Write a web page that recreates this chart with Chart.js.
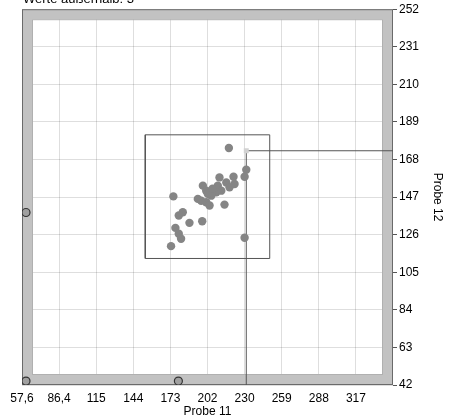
<!DOCTYPE html>
<html>
<head>
<meta charset="utf-8">
<script src="https://cdn.jsdelivr.net/npm/chart.js@4/dist/chart.umd.min.js"></script>
<style>
  html, body { margin: 0; padding: 0; background: #fff; }
</style>
</head>
<body>
<canvas id="probeChart" width="452" height="419"></canvas>
<script>
// Messwerte innerhalb des Bereichs
const probe11 = [218.2, 231.7, 230.4, 221.8, 210.9, 216.2, 222.6, 218.7, 209.6, 198.0, 200.6,
                 208.4, 212.3, 204.5, 194.1, 200.6, 203.2, 214.8, 175.1, 182.4, 179.3, 187.6,
                 197.5, 176.7, 179.3, 181.1, 173.3, 230.4, 196.7, 201.8, 205.5];
const probe12 = [174.4, 162.3, 158.4, 158.4, 158.0, 155.2, 154.3, 152.5, 153.4, 153.4, 150.6,
                 149.7, 150.6, 147.8, 146.0, 144.1, 142.3, 142.8, 147.4, 138.5, 136.7, 132.6,
                 133.5, 129.8, 126.5, 123.7, 119.6, 124.3, 145.0, 148.9, 151.7];

// Werte ausserhalb (am Rand dargestellt)
const outX = [60.7, 60.7, 179.0];
const outY = [138.4, 44.2, 44.2];

// markierter Punkt + Auswahlrechteck
const selX = [231.7];
const selY = [172.9];
const boxX = [153.3, 249.9];
const boxY = [112.7, 181.8];

const xTicks = [57.6, 86.4, 115.2, 144, 172.8, 201.6, 230.4, 259.2, 288, 316.8];
const xTickLabels = ['57,6', '86,4', '115', '144', '173', '202', '230', '259', '288', '317'];
const yTicks = [42, 63, 84, 105, 126, 147, 168, 189, 210, 231, 252];
const xMin = 57.6, xMax = 345.6, yMin = 42, yMax = 252;

const toPts = (xs, ys) => xs.map((x, i) => ({ x: x, y: ys[i] }));

const boxPts = [
  { x: boxX[0], y: boxY[0] }, { x: boxX[1], y: boxY[0] },
  { x: boxX[1], y: boxY[1] }, { x: boxX[0], y: boxY[1] },
  { x: boxX[0], y: boxY[0] }
];
const cursorPts = [
  { x: selX[0], y: yMin }, { x: selX[0], y: selY[0] }, { x: xMax, y: selY[0] }
];

// grauer Rahmen = Bereich fuer Werte ausserhalb
const frameBand = {
  id: 'frameBand',
  beforeDatasetsDraw(chart) {
    const { ctx, chartArea: a } = chart;
    const t = 10;
    const w = a.right - a.left, h = a.bottom - a.top;
    ctx.save();
    ctx.fillStyle = '#c2c2c2';
    ctx.beginPath();
    ctx.rect(a.left, a.top, w, h);
    ctx.rect(a.left + t, a.top + t, w - 2 * t, h - 2 * t);
    ctx.fill('evenodd');
    ctx.lineWidth = 1;
    ctx.strokeStyle = '#6a6a6a';
    ctx.strokeRect(a.left + 0.5, a.top + 0.5, w - 1, h - 1);
    ctx.strokeStyle = '#b0b0b0';
    ctx.strokeRect(a.left + t + 0.5, a.top + t + 0.5, w - 2 * t - 1, h - 2 * t - 1);
    ctx.restore();
  },
  afterDraw(chart) {
    const ctx = chart.ctx;
    ctx.save();
    ctx.fillStyle = '#000';
    ctx.font = '13px "Liberation Sans", Arial, sans-serif';
    ctx.textBaseline = 'alphabetic';
    ctx.fillText('Werte außerhalb: 3', 23, 3);
    ctx.restore();
  }
};

new Chart(document.getElementById('probeChart'), {
  type: 'scatter',
  data: {
    datasets: [
      {
        data: toPts(selX, selY),
        pointStyle: 'rect',
        pointRadius: 3.5,
        backgroundColor: '#d2d2d2',
        borderWidth: 0
      },
      {
        data: toPts(probe11, probe12),
        pointRadius: 4.2,
        backgroundColor: '#858585',
        borderWidth: 0
      },
      {
        data: toPts(outX, outY),
        pointRadius: 4,
        backgroundColor: '#a0a0a0',
        borderColor: '#333',
        borderWidth: 1.2
      },
      {
        data: cursorPts,
        showLine: true,
        pointRadius: 0,
        borderColor: '#555',
        borderWidth: 1
      },
      {
        data: boxPts,
        showLine: true,
        pointRadius: 0,
        borderColor: '#555',
        borderWidth: 1
      }
    ]
  },
  options: {
    responsive: false,
    animation: false,
    devicePixelRatio: 1,
    layout: { padding: { left: 22, top: 8, right: 0, bottom: 0 } },
    plugins: {
      legend: { display: false },
      tooltip: { enabled: false }
    },
    scales: {
      x: {
        type: 'linear',
        min: xMin,
        max: xMax,
        afterBuildTicks: s => { s.ticks = xTicks.map(v => ({ value: v })); },
        afterFit: s => { s.height = 34; },
        border: { display: false },
        grid: { color: 'rgba(0,0,0,0.13)', borderDash: [1, 2], drawTicks: false },
        ticks: {
          padding: 6,
          color: '#000',
          font: { family: '"Liberation Sans", Arial, sans-serif', size: 12 },
          maxRotation: 0,
          autoSkip: false,
          callback: (v, i) => xTickLabels[i]
        },
        title: {
          display: true,
          text: 'Probe 11',
          color: '#000',
          padding: { top: 0, bottom: 0 },
          font: { family: '"Liberation Sans", Arial, sans-serif', size: 12 }
        }
      },
      y: {
        type: 'linear',
        position: 'right',
        min: yMin,
        max: yMax,
        afterBuildTicks: s => { s.ticks = yTicks.map(v => ({ value: v })); },
        afterFit: s => { s.width = 59; },
        border: { display: false },
        grid: {
          color: 'rgba(0,0,0,0.13)',
          borderDash: [1, 2],
          tickLength: 4,
          tickColor: '#555',
          tickBorderDash: []
        },
        ticks: {
          padding: 2,
          color: '#000',
          font: { family: '"Liberation Sans", Arial, sans-serif', size: 12 },
          autoSkip: false
        },
        title: {
          display: true,
          text: 'Probe 12',
          color: '#000',
          padding: { top: 7, bottom: 7 },
          font: { family: '"Liberation Sans", Arial, sans-serif', size: 12 }
        }
      }
    }
  },
  plugins: [frameBand]
});
</script>
</body>
</html>
